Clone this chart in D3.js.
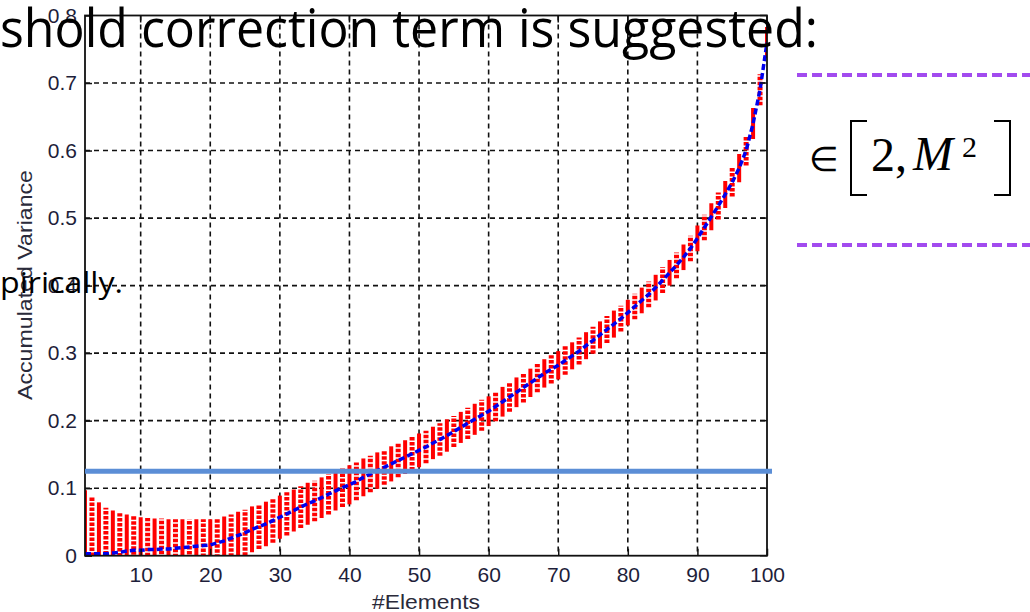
<!DOCTYPE html>
<html>
<head>
<meta charset="utf-8">
<script src="https://cdn.jsdelivr.net/npm/d3@7"></script>
<style>
  html, body { margin: 0; padding: 0; background: #fff; }
  svg { display: block; }
</style>
</head>
<body>
<div id="chart"></div>
<script>
// #Elements (x) values
const elements = [
  2, 3, 4, 5, 6, 7, 8, 9, 10, 11, 12, 13, 14, 15, 16, 17, 18, 19, 20, 21,
  22, 23, 24, 25, 26, 27, 28, 29, 30, 31, 32, 33, 34, 35, 36, 37, 38, 39, 40, 41,
  42, 43, 44, 45, 46, 47, 48, 49, 50, 51, 52, 53, 54, 55, 56, 57, 58, 59, 60, 61,
  62, 63, 64, 65, 66, 67, 68, 69, 70, 71, 72, 73, 74, 75, 76, 77, 78, 79, 80, 81,
  82, 83, 84, 85, 86, 87, 88, 89, 90, 91, 92, 93, 94, 95, 96, 97, 98, 99, 100
]

// mean accumulated variance (blue dashed line)
const meanVariance = [
  0.003, 0.003, 0.003, 0.003, 0.004, 0.005, 0.007, 0.008, 0.008, 0.009,
  0.009, 0.010, 0.010, 0.011, 0.012, 0.013, 0.014, 0.015, 0.016, 0.019,
  0.022, 0.026, 0.030, 0.034, 0.039, 0.043, 0.047, 0.052, 0.057, 0.062,
  0.067, 0.072, 0.077, 0.081, 0.086, 0.091, 0.096, 0.101, 0.105, 0.110,
  0.116, 0.121, 0.126, 0.131, 0.136, 0.141, 0.146, 0.151, 0.156, 0.161,
  0.167, 0.172, 0.178, 0.184, 0.190, 0.196, 0.202, 0.208, 0.214, 0.221,
  0.228, 0.235, 0.242, 0.249, 0.256, 0.263, 0.270, 0.276, 0.282, 0.289,
  0.296, 0.303, 0.311, 0.319, 0.327, 0.335, 0.343, 0.351, 0.360, 0.369,
  0.378, 0.387, 0.397, 0.408, 0.419, 0.430, 0.442, 0.455, 0.470, 0.486,
  0.502, 0.518, 0.535, 0.553, 0.574, 0.600, 0.640, 0.690, 0.760
]

// error bar half length (red bars)
const errVariance = [
  0.094, 0.085, 0.076, 0.068, 0.063, 0.058, 0.054, 0.051, 0.049, 0.047,
  0.046, 0.045, 0.044, 0.043, 0.042, 0.041, 0.040, 0.039, 0.038, 0.037,
  0.036, 0.035, 0.035, 0.034, 0.034, 0.033, 0.033, 0.033, 0.032, 0.032,
  0.031, 0.031, 0.031, 0.030, 0.030, 0.030, 0.029, 0.029, 0.029, 0.028,
  0.028, 0.027, 0.027, 0.026, 0.026, 0.025, 0.025, 0.025, 0.025, 0.024,
  0.024, 0.024, 0.024, 0.023, 0.023, 0.023, 0.023, 0.023, 0.022, 0.022,
  0.022, 0.022, 0.022, 0.022, 0.021, 0.021, 0.021, 0.021, 0.021, 0.021,
  0.020, 0.020, 0.020, 0.020, 0.020, 0.020, 0.020, 0.019, 0.019, 0.019,
  0.019, 0.019, 0.019, 0.019, 0.019, 0.019, 0.019, 0.019, 0.019, 0.019,
  0.020, 0.020, 0.020, 0.021, 0.021, 0.022, 0.023, 0.023, 0.023
]

const xTicks = [10, 20, 30, 40, 50, 60, 70, 80, 90, 100]
const yTicks = [0, 0.1, 0.2, 0.3, 0.4, 0.5, 0.6, 0.7, 0.8]
const thresholdValue = 0.125

const width = 1030
const height = 612
const plot = { left: 85, right: 767, top: 15.5, bottom: 555.7 }

const svg = d3.select('#chart')
  .append('svg')
  .attr('width', width)
  .attr('height', height)

const x = d3.scaleLinear().domain([2, 100]).range([plot.left, plot.right])
const y = d3.scaleLinear().domain([0, 0.8]).range([plot.bottom, plot.top])

svg.append('clipPath').attr('id', 'plot-clip')
  .append('rect')
  .attr('x', plot.left).attr('y', plot.top)
  .attr('width', plot.right - plot.left)
  .attr('height', plot.bottom - plot.top)

// grid
const grid = svg.append('g')
grid.selectAll('line.vg')
  .data(xTicks.filter(t => t < 100))
  .enter().append('line')
  .attr('x1', d => x(d)).attr('x2', d => x(d))
  .attr('y1', plot.top).attr('y2', plot.bottom)
  .attr('stroke', '#111').attr('stroke-width', 1.6)
  .attr('stroke-dasharray', '5,4')
grid.selectAll('line.hg')
  .data(yTicks.filter(t => t > 0 && t < 0.8))
  .enter().append('line')
  .attr('x1', plot.left).attr('x2', plot.right)
  .attr('y1', d => y(d)).attr('y2', d => y(d))
  .attr('stroke', '#111').attr('stroke-width', 1.6)
  .attr('stroke-dasharray', '5,4')

const data = elements.map((e, i) => ({ e, m: meanVariance[i], s: errVariance[i], i }))

// red error bars (solid and dotted alternate)
const bars = svg.append('g').attr('clip-path', 'url(#plot-clip)')
bars.selectAll('line.bar')
  .data(data)
  .enter().append('line')
  .attr('x1', d => x(d.e)).attr('x2', d => x(d.e))
  .attr('y1', d => y(d.m - d.s)).attr('y2', d => y(d.m + d.s))
  .attr('stroke', '#ff0000')
  .attr('stroke-width', d => d.e % 2 === 0 ? 4 : 5)
  .attr('stroke-dasharray', d => d.e % 2 === 0 ? null : '3.5,1.5')

// mean line
const line = d3.line().x(d => x(d.e)).y(d => y(d.m))
svg.append('path')
  .datum(data)
  .attr('clip-path', 'url(#plot-clip)')
  .attr('d', line)
  .attr('fill', 'none')
  .attr('stroke', '#0000ee')
  .attr('stroke-width', 3.5)
  .attr('stroke-dasharray', '6,3')

// axes box
svg.append('rect')
  .attr('x', plot.left).attr('y', plot.top)
  .attr('width', plot.right - plot.left)
  .attr('height', plot.bottom - plot.top)
  .attr('fill', 'none').attr('stroke', '#111').attr('stroke-width', 1.8)

const xAxis = d3.axisBottom(x).tickValues(xTicks).tickSize(-7).tickPadding(10).tickFormat(d3.format('d'))
const yAxis = d3.axisLeft(y).tickValues(yTicks).tickSize(-7).tickPadding(8).tickFormat(d => d === 0 ? '0' : d3.format('.1f')(d))

const gx = svg.append('g').attr('transform', `translate(0,${plot.bottom})`).call(xAxis)
const gy = svg.append('g').attr('transform', `translate(${plot.left},0)`).call(yAxis)
;[gx, gy].forEach(g => {
  g.select('.domain').remove()
  g.selectAll('.tick line').attr('stroke', '#111').attr('stroke-width', 1.5)
  g.selectAll('.tick text')
    .attr('fill', '#1e1e3a')
    .style('font-family', '"Liberation Sans", Arial, sans-serif')
    .style('font-size', '21px')
})
gx.selectAll('.tick text').attr('dy', '0.8em')

// ticks on top and right
svg.append('g').selectAll('line')
  .data(xTicks)
  .enter().append('line')
  .attr('x1', d => x(d)).attr('x2', d => x(d))
  .attr('y1', plot.top).attr('y2', plot.top + 7)
  .attr('stroke', '#111').attr('stroke-width', 1.5)
svg.append('g').selectAll('line')
  .data(yTicks)
  .enter().append('line')
  .attr('x1', plot.right - 7).attr('x2', plot.right)
  .attr('y1', d => y(d)).attr('y2', d => y(d))
  .attr('stroke', '#111').attr('stroke-width', 1.5)

// axis labels
svg.append('text')
  .attr('x', (plot.left + plot.right) / 2)
  .attr('y', 609)
  .attr('text-anchor', 'middle')
  .attr('fill', '#2a2a3a')
  .style('font-family', '"Liberation Sans", Arial, sans-serif')
  .style('font-size', '21px')
  .attr('textLength', 108)
  .attr('lengthAdjust', 'spacingAndGlyphs')
  .text('#Elements')

svg.append('text')
  .attr('transform', 'translate(32,285) rotate(-90)')
  .attr('text-anchor', 'middle')
  .attr('fill', '#2a2a3a')
  .style('font-family', '"Liberation Sans", Arial, sans-serif')
  .style('font-size', '21px')
  .attr('textLength', 230)
  .attr('lengthAdjust', 'spacingAndGlyphs')
  .text('Accumulated Variance')

// threshold line
svg.append('line')
  .attr('x1', plot.left).attr('x2', plot.right + 5)
  .attr('y1', y(thresholdValue)).attr('y2', y(thresholdValue))
  .attr('stroke', '#5b8ed6').attr('stroke-width', 5)

// slide text around the chart
svg.append('text')
  .attr('x', 0).attr('y', 47)
  .attr('fill', '#000')
  .style('font-family', '"Open Sans", sans-serif')
  .style('font-size', '53px')
  .attr('textLength', 818)
  .attr('lengthAdjust', 'spacingAndGlyphs')
  .text('shold correction term is suggested:')

svg.append('text')
  .attr('x', 0).attr('y', 293)
  .attr('fill', '#000')
  .style('font-family', '"Open Sans", sans-serif')
  .style('font-size', '29px')
  .attr('textLength', 123)
  .attr('lengthAdjust', 'spacingAndGlyphs')
  .text('pirically.')

// purple dashed rules
;[75, 245].forEach(yy => {
  svg.append('line')
    .attr('x1', 797).attr('x2', 1030)
    .attr('y1', yy).attr('y2', yy)
    .attr('stroke', '#a24bef').attr('stroke-width', 4)
    .attr('stroke-dasharray', '10,5')
})

// formula  ∈ [2, M²]
const f = svg.append('g').style('font-family', '"Liberation Serif", "Times New Roman", serif').attr('fill', '#000')
f.append('text').attr('x', 809).attr('y', 171).style('font-size', '34px').text('∈')
f.append('path').attr('d', 'M867,121 H851 V195 H867').attr('fill', 'none').attr('stroke', '#000').attr('stroke-width', 2)
f.append('path').attr('d', 'M994,121 H1010 V195 H994').attr('fill', 'none').attr('stroke', '#000').attr('stroke-width', 2)
f.append('text').attr('x', 871).attr('y', 171).style('font-size', '48px').text('2,')
f.append('text').attr('x', 913).attr('y', 170).style('font-size', '48px').style('font-style', 'italic').text('M')
f.append('text').attr('x', 962).attr('y', 157).style('font-size', '30px').text('2')
</script>
</body>
</html>
